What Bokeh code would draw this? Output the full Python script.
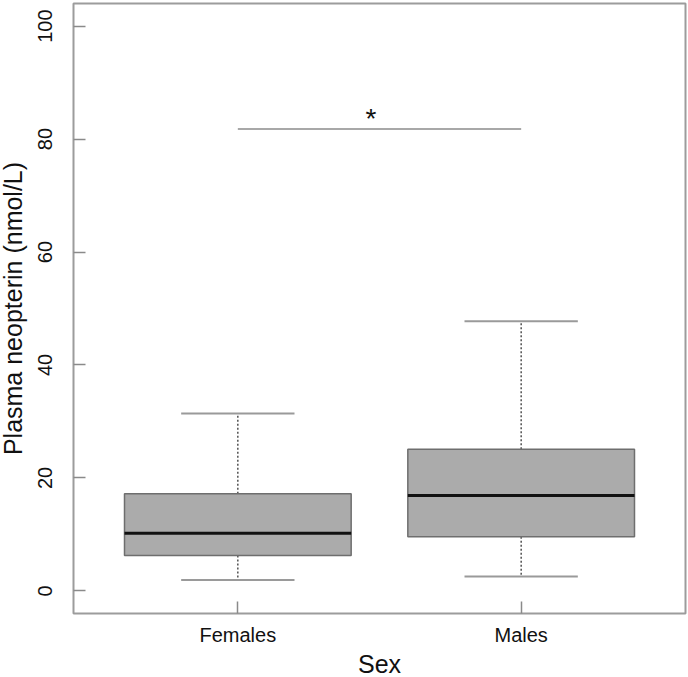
from bokeh.plotting import figure
from bokeh.models import Range1d, FixedTicker, ColumnDataSource
from bokeh.core.properties import value
from bokeh.embed import file_html
from bokeh.resources import INLINE

# ---- data ----
categories = ["Females", "Males"]
lower_whisker = [1.95, 2.55]
q1 = [6.25, 9.6]
median = [10.2, 16.9]
q3 = [17.2, 25.1]
upper_whisker = [31.4, 47.75]
y_ticks = [0, 20, 40, 60, 80, 100]
sig_from = [1]
sig_to = [2]
sig_height = [81.8]
sig_label = ["*"]
sig_label_x = [1.47]

xs = [i + 1 for i in range(len(categories))]
box_half = 0.4
cap_half = 0.2

src = ColumnDataSource(dict(
    x=xs,
    left=[x - box_half for x in xs],
    right=[x + box_half for x in xs],
    capl=[x - cap_half for x in xs],
    capr=[x + cap_half for x in xs],
    lw=lower_whisker, q1=q1, med=median, q3=q3, uw=upper_whisker,
))

FONT = "Liberation Sans"

p = figure(
    frame_width=612, frame_height=610,
    x_range=Range1d(0.42, 2.58), y_range=Range1d(-4, 104),
    output_backend="svg", toolbar_location=None,
    min_border_left=90, min_border_right=3, min_border_top=3, min_border_bottom=64,
    background_fill_color="white", border_fill_color="white",
)
p.styles = {"position": "absolute", "top": "0px", "left": "-17px"}

p.xgrid.visible = False
p.ygrid.visible = False
p.outline_line_color = "#9c9c9c"
p.outline_line_width = 2

# whiskers (dotted)
p.segment(x0="x", y0="q3", x1="x", y1="uw", source=src, line_color="#444444",
          line_width=1.4, line_dash="2 2")
p.segment(x0="x", y0="q1", x1="x", y1="lw", source=src, line_color="#444444",
          line_width=1.4, line_dash="2 2")
# caps
p.segment(x0="capl", y0="uw", x1="capr", y1="uw", source=src, line_color="#9a9a9a", line_width=2)
p.segment(x0="capl", y0="lw", x1="capr", y1="lw", source=src, line_color="#9a9a9a", line_width=2)
# boxes
p.quad(left="left", right="right", bottom="q1", top="q3", source=src,
       fill_color="#ababab", line_color="#6e6e6e", line_width=1.5)
# medians
p.segment(x0="left", y0="med", x1="right", y1="med", source=src, line_color="#111111", line_width=3)

# significance bar
p.segment(x0=sig_from, y0=sig_height, x1=sig_to, y1=sig_height, line_color="#a8a8a8", line_width=2)
p.text(x=sig_label_x, y=sig_height, text=sig_label, text_font=value(FONT),
       text_font_size="28px", text_align="center", text_baseline="alphabetic",
       text_color="#111111", y_offset=-10)

# axes
xa = p.xaxis[0]
xa.ticker = FixedTicker(ticks=xs)
xa.major_label_overrides = {x: c for x, c in zip(xs, categories)}
xa.axis_label = "Sex"
ya = p.yaxis[0]
ya.ticker = FixedTicker(ticks=y_ticks)
ya.axis_label = "Plasma neopterin (nmol/L)"
ya.major_label_orientation = "vertical"

for ax in (xa, ya):
    ax.axis_line_color = None
    ax.minor_tick_line_color = None
    ax.major_tick_in = 12
    ax.major_tick_out = 0
    ax.major_tick_line_color = "#8a8a8a"
    ax.major_tick_line_width = 1.5
    ax.major_label_text_font = FONT
    ax.major_label_text_font_size = "20px"
    ax.major_label_text_color = "#111111"
    ax.axis_label_text_font = FONT
    ax.axis_label_text_font_size = "25px"
    ax.axis_label_text_font_style = "normal"
    ax.axis_label_text_color = "#111111"

xa.major_label_standoff = 10
xa.axis_label_standoff = 1
ya.major_label_standoff = 21
ya.axis_label_standoff = 9

open("out.html", "w").write(file_html(p, INLINE))
